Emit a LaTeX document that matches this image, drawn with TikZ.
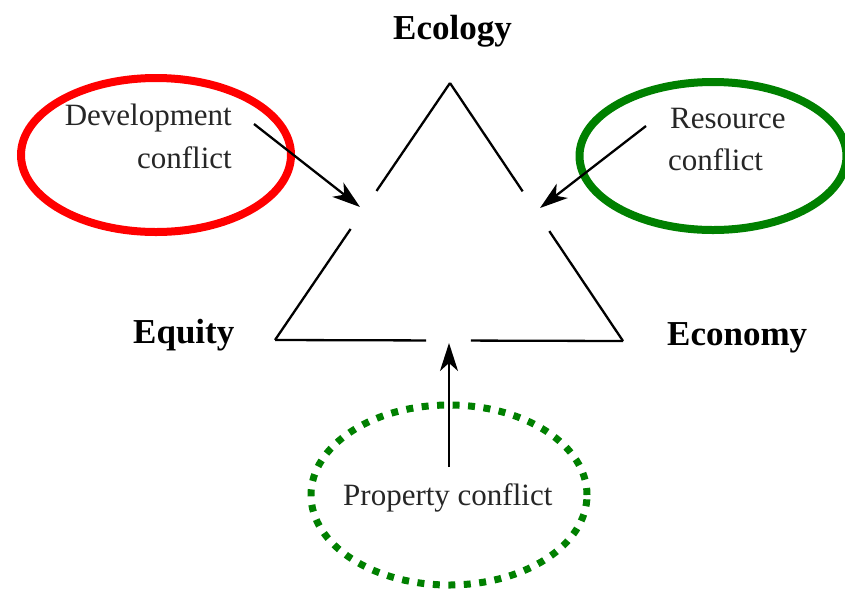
\documentclass[tikz,border=0pt]{standalone}
\usepackage{fontspec}
\setmainfont{Liberation Serif}
\usetikzlibrary{shapes.geometric,arrows.meta,calc}
\definecolor{dgreen}{RGB}{0,128,0}
\tikzset{
  side/.style={line width=2.3pt, black},
  conn/.style={line width=2.3pt, black, -{Stealth[length=28pt,width=18pt,inset=8pt]}},
  ring/.style={ellipse, line width=8pt, inner sep=0pt},
  lbl/.style={inner sep=0pt, font=\fontsize{31}{31}\selectfont, text=black!85},
  pole/.style={inner sep=0pt, font=\fontsize{35}{35}\selectfont\bfseries},
}
\begin{document}
\begin{tikzpicture}[x=1pt,y=-1pt]
\useasboundingbox (0,0) rectangle (845,590);
% triangle vertices
\coordinate (A) at (450,83);
\coordinate (L) at (275,340);
\coordinate (R) at (623,341);
\draw[side] (A) -- ($(A)!0.42!(L)$);
\draw[side] ($(A)!0.568!(L)$) -- (L);
\draw[side] (A) -- ($(A)!0.42!(R)$);
\draw[side] ($(A)!0.574!(R)$) -- (R);
\draw[side] (L) -- ($(L)!0.434!(R)$);
\draw[side] ($(L)!0.563!(R)$) -- (R);
% ellipses
\node[ring, draw=red, minimum width=270pt, minimum height=154pt] (dev) at (156,155) {};
\node[ring, draw=dgreen, minimum width=267pt, minimum height=148pt] (res) at (713,156) {};
\node[ring, draw=dgreen, dash pattern=on 7pt off 8.5pt, line width=7pt, minimum width=276pt, minimum height=180pt] (prop) at (449,495) {};
% labels
\node[pole, anchor=base west] (eco) at (393,39) {Ecology};
\node[pole, anchor=base west] (equ) at (133,343) {Equity};
\node[pole, anchor=base west] (econ) at (667,345) {Economy};
\node[lbl, anchor=base east] (dev1) at (232,125) {Development};
\node[lbl, anchor=base east] (dev2) at (232,168) {conflict};
\node[lbl, anchor=base west] (res1) at (670,128) {Resource};
\node[lbl, anchor=base west] (res2) at (668,170) {conflict};
\node[lbl, anchor=base west] (prop1) at (343,505) {Property conflict};
% arrows
\coordinate (d0) at (254,124);
\coordinate (d1) at (360,207);
\coordinate (r0) at (646,126);
\coordinate (r1) at (540,208);
\coordinate (p0) at (449,467);
\coordinate (p1) at (449,343);
\draw[conn] (d0) -- (d1);
\draw[conn] (r0) -- (r1);
\draw[conn] (p0) -- (p1);
\end{tikzpicture}
\end{document}
